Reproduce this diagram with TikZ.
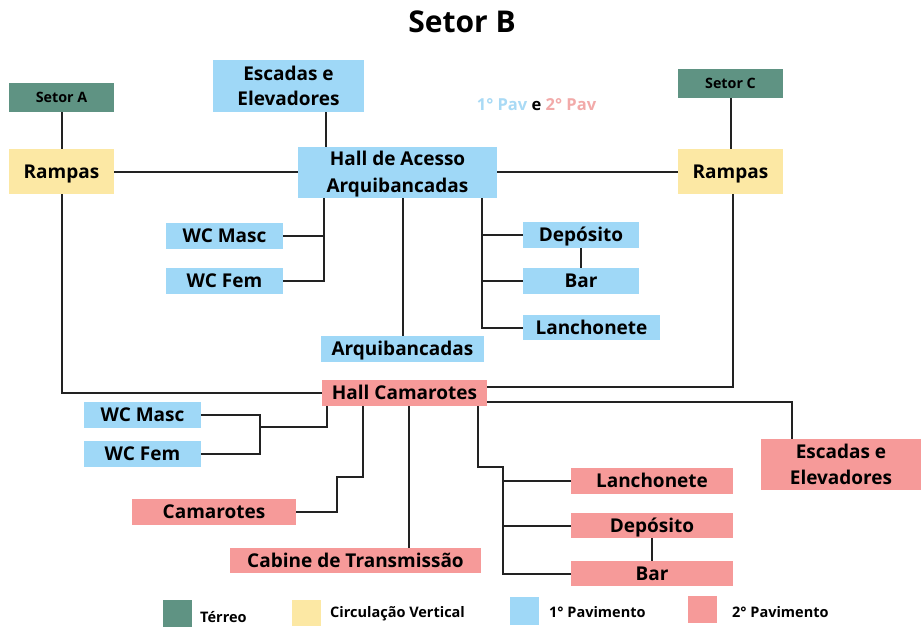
\documentclass[tikz,border=0pt]{standalone}
\usepackage{fontspec}
\setmainfont{Open Sans}
\definecolor{terreo}{HTML}{5F9383}
\definecolor{circ}{HTML}{FCE8A4}
\definecolor{pav1}{HTML}{9FD8F7}
\definecolor{pav2}{HTML}{F69A99}
\definecolor{pav1txt}{HTML}{A9DAF5}
\definecolor{pav2txt}{HTML}{F2AAA9}
\definecolor{wire}{HTML}{222222}
\begin{document}
\begin{tikzpicture}[x=1pt,y=-1pt,
  box/.style={draw=none,inner sep=0pt,align=center,text=black,
    font=\bfseries\fontsize{19}{25}\selectfont},
  one/.style={text height=13.6pt,text depth=0pt},
  gbox/.style={box,fill=terreo,text height=10.2pt,text depth=0pt,
    font=\bfseries\fontsize{14.3}{16}\selectfont},
  ybox/.style={box,one,fill=circ},
  bbox/.style={box,one,fill=pav1},
  pbox/.style={box,one,fill=pav2},
  wirestyle/.style={draw=wire,line width=2pt},
  legsq/.style={draw=none,inner sep=0pt,minimum width=29pt},
  legtxt/.style={anchor=west,inner sep=0pt,text height=10.4pt,text depth=0pt,
    font=\bfseries\fontsize{14.5}{16}\selectfont}]
\useasboundingbox[fill=white] (0,0) rectangle (921,630);

% title and floor note
\node[text height=21.4pt,text depth=0pt,inner sep=0pt,
  font=\bfseries\fontsize{30}{34}\selectfont] (title) at (462,22) {Setor B};
\node[text height=11.8pt,text depth=0pt,inner sep=0pt,
  font=\bfseries\fontsize{16.5}{18}\selectfont] (pavs) at (536.5,105)
  {\textcolor{pav1txt}{1° Pav} e \textcolor{pav2txt}{2° Pav}};

% ground level and access
\node[gbox,minimum width=105,minimum height=29] (setA) at (61.5,97.5) {Setor A};
\node[gbox,minimum width=105,minimum height=29] (setC) at (730.5,83.5) {Setor C};
\node[ybox,minimum width=105,minimum height=45] (rampL) at (61.5,171.5) {Rampas};
\node[ybox,minimum width=105,minimum height=45] (rampR) at (730.5,171.5) {Rampas};

% first floor
\node[box,fill=pav1,minimum width=151,minimum height=52] (escA) at (288.5,86) {Escadas e\\Elevadores};
\node[box,fill=pav1,minimum width=199,minimum height=51,
  font=\bfseries\fontsize{19}{27}\selectfont] (hallA) at (397.5,172.5) {};
\node[box,font=\bfseries\fontsize{19}{27}\selectfont] (hallAtxt) at ([yshift=-2pt]hallA.center) {Hall de Acesso\\Arquibancadas};
\node[bbox,minimum width=117,minimum height=26] (wcm1) at (224.5,236) {WC Masc};
\node[bbox,minimum width=117,minimum height=26] (wcf1) at (224.5,281) {WC Fem};
\node[bbox,minimum width=116,minimum height=26] (dep1) at (581,235) {Depósito};
\node[bbox,minimum width=116,minimum height=26] (bar1) at (581,281) {Bar};
\node[bbox,minimum width=137,minimum height=25] (lan1) at (591.5,327.5) {Lanchonete};
\node[bbox,minimum width=163,minimum height=26] (arq) at (402.5,349) {Arquibancadas};

% second floor
\node[pbox,minimum width=165,minimum height=26] (hallC) at (404.5,393) {Hall Camarotes};
\node[bbox,minimum width=117,minimum height=26] (wcm2) at (142.5,415) {WC Masc};
\node[bbox,minimum width=117,minimum height=26] (wcf2) at (142.5,454) {WC Fem};
\node[pbox,minimum width=164,minimum height=26] (cam) at (214,512) {Camarotes};
\node[pbox,minimum width=251,minimum height=25] (cab) at (355.5,560.5) {Cabine de Transmissão};
\node[box,fill=pav2,minimum width=160,minimum height=51,
  font=\bfseries\fontsize{19}{26}\selectfont] (esc2) at (841,464.5) {Escadas e\\Elevadores};
\node[pbox,minimum width=162,minimum height=26] (lan2) at (652,481) {Lanchonete};
\node[pbox,minimum width=162,minimum height=25] (dep2) at (652,525.5) {Depósito};
\node[pbox,minimum width=162,minimum height=25] (bar2) at (652,573.5) {Bar};

% junction points
\coordinate (jw) at ([xshift=-73.5pt]hallA.south);
\coordinate (jd) at ([xshift=84.5pt]hallA.south);
\coordinate (jw2) at ([xshift=-77.5pt]hallC.south);
\coordinate (kw) at (260,427);
\coordinate (jc) at ([xshift=-41.5pt]hallC.south);
\coordinate (jr) at ([xshift=73.5pt]hallC.south);

% connectors, first floor
\draw[wirestyle] (setA) -- (rampL);
\draw[wirestyle] (setC) -- (rampR);
\draw[wirestyle] (rampL.east) -- (rampL.east -| hallA.west);
\draw[wirestyle] (hallA.east |- rampR.west) -- (rampR.west);
\draw[wirestyle] ([xshift=37.5pt]escA.south) -- ([xshift=37.5pt]escA.south |- hallA.north);
\draw[wirestyle] (jw) |- (wcf1.east);
\draw[wirestyle] (wcm1.east) -- (wcm1.east -| jw);
\draw[wirestyle] (arq.north) -- (arq.north |- hallA.south);
\draw[wirestyle] (jd) |- (lan1.west);
\draw[wirestyle] (dep1.west -| jd) -- (dep1.west);
\draw[wirestyle] (bar1.west -| jd) -- (bar1.west);
\draw[wirestyle] (dep1) -- (bar1);

% connectors, second floor
\draw[wirestyle] (rampL.south) |- (hallC.west);
\draw[wirestyle] ([yshift=6pt]hallC.east) -| ([xshift=2.5pt]rampR.south);
\draw[wirestyle] ([yshift=-9pt]hallC.east) -| ([xshift=-49pt]esc2.north);
\draw[wirestyle] (wcm2.east) -| (kw) |- (wcf2.east);
\draw[wirestyle] (kw) -| (jw2);
\draw[wirestyle] (cam.east) -- ++(41,0) -- ++(0,-35) -| (jc);
\draw[wirestyle] ([xshift=4.5pt]hallC.south) -- ([xshift=4.5pt]hallC.south |- cab.north);
\draw[wirestyle] (jr) -- ++(0,61) -- ++(25,0) |- (bar2.west);
\draw[wirestyle] (lan2.west) -- ++(-68,0);
\draw[wirestyle] (dep2.west) -- ++(-68,0);
\draw[wirestyle] (dep2) -- (bar2);

% legend
\node[legsq,fill=terreo,minimum height=27] (lg1) at (177.5,613.5) {};
\node[legtxt] (lt1) at (200,617) {Térreo};
\node[legsq,fill=circ,minimum height=26] (lg2) at (306.5,613) {};
\node[legtxt] (lt2) at (330,612.5) {Circulação Vertical};
\node[legsq,fill=pav1,minimum height=28] (lg3) at (524.5,611) {};
\node[legtxt] (lt3) at (549,612) {1° Pavimento};
\node[legsq,fill=pav2,minimum height=27] (lg4) at (702.5,609.5) {};
\node[legtxt] (lt4) at (732,612) {2° Pavimento};
\end{tikzpicture}
\end{document}
